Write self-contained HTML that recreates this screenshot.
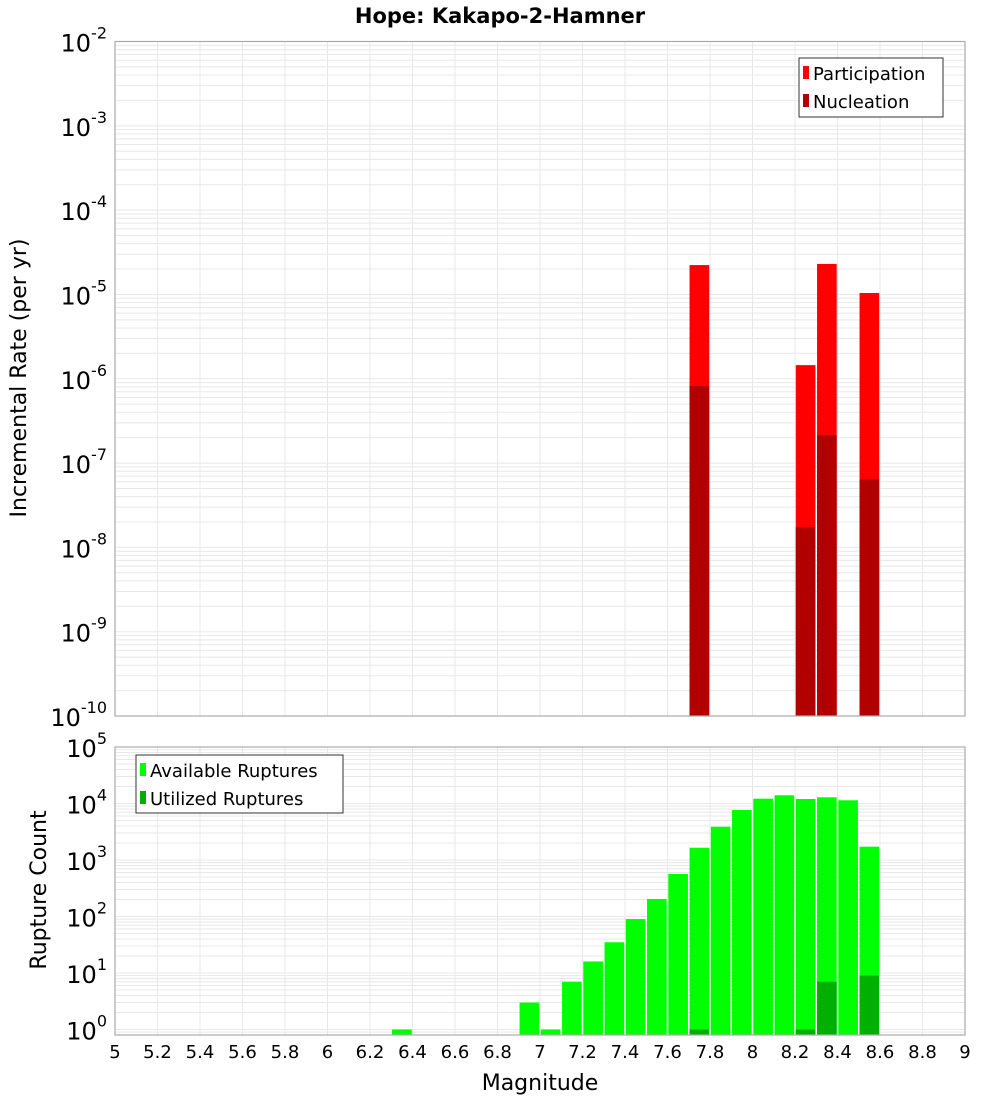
<!DOCTYPE html>
<html><head><meta charset="utf-8"><style>
body{margin:0;background:#fff;font-family:"Liberation Sans","DejaVu Sans",sans-serif}
svg text{font-family:"DejaVu Sans","Liberation Sans",sans-serif}
</style></head><body>
<svg id="chart" width="1000" height="1100" xmlns="http://www.w3.org/2000/svg">
<text x="500" y="23" text-anchor="middle" font-size="21" font-weight="bold">Hope: Kakapo-2-Hamner</text>
<g id="top"></g><g id="bot"></g>
<text transform="translate(26,378) rotate(-90)" text-anchor="middle" font-size="22">Incremental Rate (per yr)</text>
<text transform="translate(46,890) rotate(-90)" text-anchor="middle" font-size="22">Rupture Count</text>
<text x="540" y="1090" text-anchor="middle" font-size="22">Magnitude</text>
<g>
<rect x="799" y="58" width="144" height="59" fill="#fff" stroke="#333" stroke-width="1"/>
<rect x="803" y="66" width="6" height="13" fill="#ff0000"/><text x="813" y="80" font-size="18">Participation</text>
<rect x="803" y="94" width="6" height="13" fill="#b20000"/><text x="813" y="108" font-size="18">Nucleation</text>
</g>
<g>
<rect x="136" y="755" width="207" height="58" fill="#fff" stroke="#333" stroke-width="1"/>
<rect x="140" y="763" width="6" height="13" fill="#00ff00"/><text x="150" y="777" font-size="18">Available Ruptures</text>
<rect x="140" y="791" width="6" height="13" fill="#00b000"/><text x="150" y="805" font-size="18">Utilized Ruptures</text>
</g>
</svg>
<script>
const topMags=[7.7,8.2,8.3,8.5];
const participation=[2.23e-5,1.45e-6,2.3e-5,1.04e-5];
const nucleation=[8.2e-7,1.74e-8,2.14e-7,6.4e-8];
const botMags=[6.3,6.9,7.0,7.1,7.2,7.3,7.4,7.5,7.6,7.7,7.8,7.9,8.0,8.1,8.2,8.3,8.4,8.5];
const available=[1,3,1,7,16,35,90,204,566,1650,3880,7670,12160,13970,12000,12880,11400,1720];
const utilized=[0,0,0,0,0,0,0,0,0,1,0,0,0,0,1,7,0,9];
const xTicks=["5","5.2","5.4","5.6","5.8","6","6.2","6.4","6.6","6.8","7","7.2","7.4","7.6","7.8","8","8.2","8.4","8.6","8.8","9"];
const topExps=[-2,-3,-4,-5,-6,-7,-8,-9,-10];
const botExps=[5,4,3,2,1,0];
const NS="http://www.w3.org/2000/svg";
const L=115,R=965;
const X=m=>L+(m-5)*(R-L)/4;
const TT=41.5,TB=716,BT=747,BB=1035;
const yTop=v=>TT+(-2-Math.log10(v))*((TB-TT)/8);
const yBot=v=>BT+(5-Math.log10(v))*56.5;
function el(tag,attrs,parent){const e=document.createElementNS(NS,tag);for(const k in attrs)e.setAttribute(k,attrs[k]);parent.appendChild(e);return e;}
function panel(g,t,b,yf,lo,hi,exps,name){
  el('rect',{x:L,y:t,width:R-L,height:b-t,fill:'#fff'},g);
  for(let d=lo;d<hi;d++)for(let k=1;k<10;k++){const y=yf(k*Math.pow(10,d));if(y<t||y>b)continue;
    const ln=el('line',{x1:L,x2:R,y1:y,y2:y,stroke:'#e8e8e8','stroke-width':1},g);
    
    }
  xTicks.forEach(tk=>{const x=X(+tk);const ln=el('line',{x1:x,x2:x,y1:t,y2:b,stroke:'#e8e8e8','stroke-width':1},g);
    
    });
  exps.forEach(e=>{const y=yf(Math.pow(10,e));const tx=el('text',{x:L-8,y:y+10,'text-anchor':'end','font-size':24},g);
    
    
    const a=el('tspan',{},tx);a.textContent='10';const s=el('tspan',{dy:-13,'font-size':16},tx);s.textContent=String(e);});
}
function frame(g,t,b,name){const f=el('rect',{x:L,y:t,width:R-L,height:b-t,fill:'none',stroke:'#aaa','stroke-width':1.2},g);
  
  }
const gt=document.getElementById('top'),gb=document.getElementById('bot');
panel(gt,TT,TB,yTop,-10,-2,topExps,'top');
panel(gb,BT,BB,yBot,-1,5,botExps,'bottom');
const w=(R-L)/40;
function bar(g,m,v,yf,base,col,name){if(v<=0)return;const x=X(m)+0.8,y=yf(v);
  const r=el('rect',{x:x,y:y,width:w-1.6,height:base-y,fill:col},g);
  
  }
topMags.forEach((m,i)=>{bar(gt,m,participation[i],yTop,TB,'#ff0000','participation-bar');bar(gt,m,nucleation[i],yTop,TB,'#b20000','nucleation-bar');});
botMags.forEach((m,i)=>{bar(gb,m,available[i],yBot,BB,'#00ff00','available-bar');bar(gb,m,utilized[i],yBot,BB,'#00b000','utilized-bar');});
frame(gt,TT,TB,'top');frame(gb,BT,BB,'bottom');
xTicks.forEach(tk=>{const t=el('text',{x:X(+tk),y:1058,'text-anchor':'middle','font-size':18},gb);
  
  
  t.textContent=tk;});
</script>
</body></html>
